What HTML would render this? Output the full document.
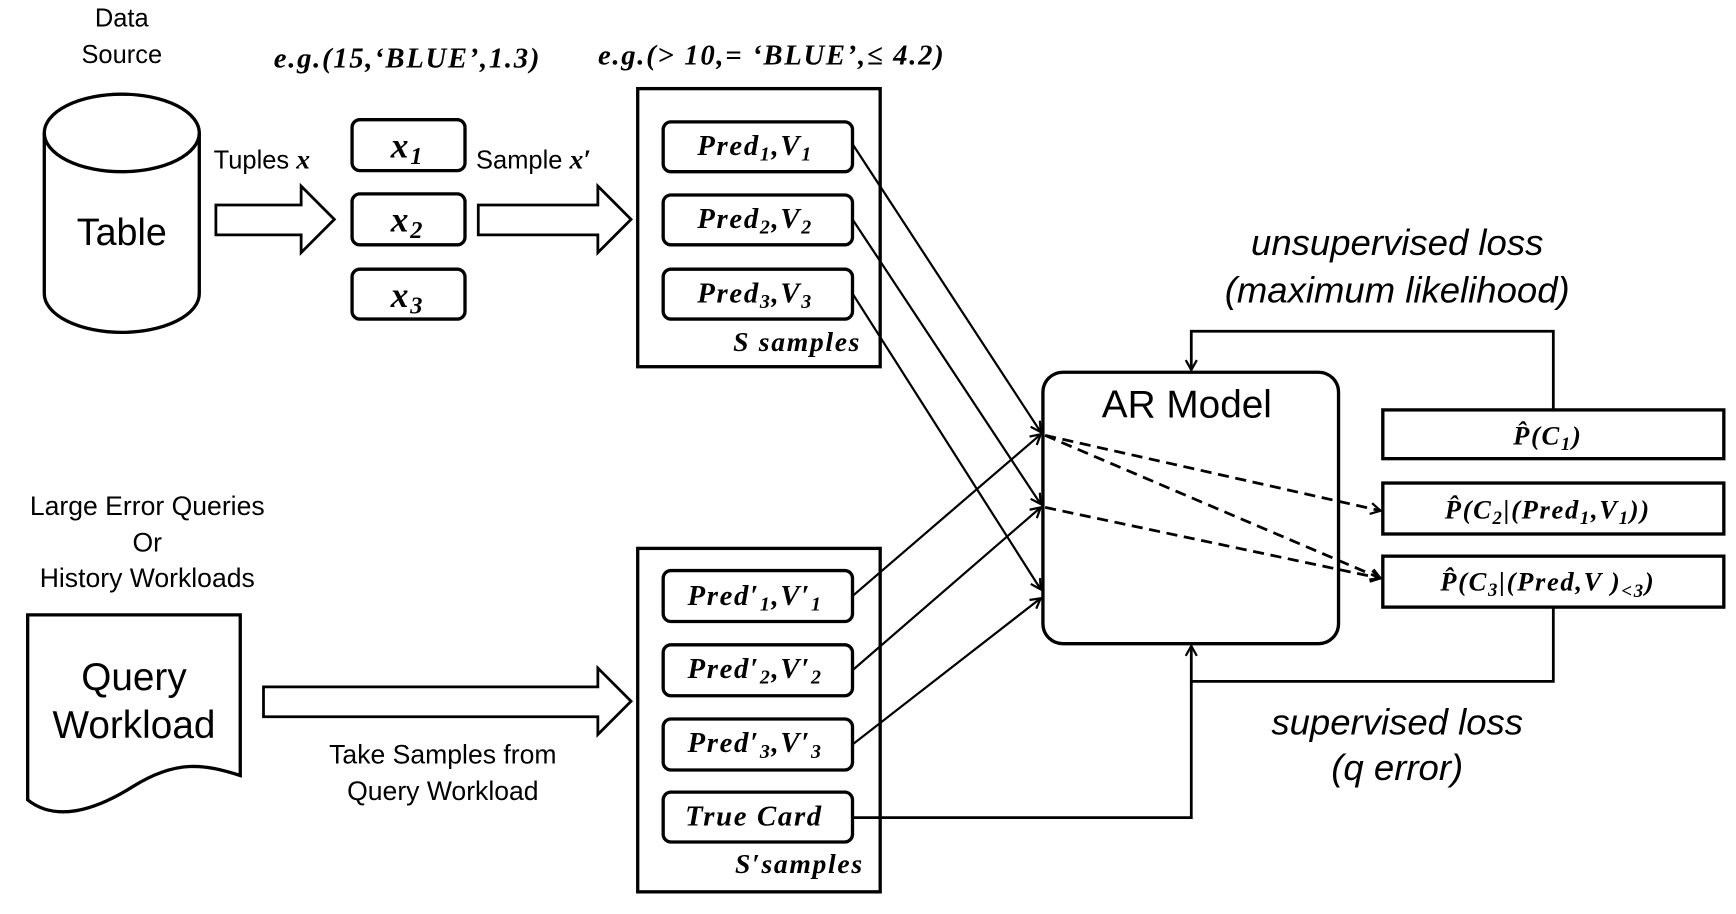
<!DOCTYPE html>
<html><head><meta charset="utf-8"><style>
html,body{margin:0;padding:0;background:#fff;}
svg{display:block}
.s{font-family:"Liberation Sans","DejaVu Sans",sans-serif;}
.m{font-family:"Liberation Serif",serif;font-weight:bold;font-style:italic;}
</style></head><body>
<svg width="1736" height="914" viewBox="0 0 1568 825" preserveAspectRatio="none" xmlns="http://www.w3.org/2000/svg">
<defs>
<marker id="ah" markerWidth="12" markerHeight="12" refX="10" refY="6" orient="auto" markerUnits="userSpaceOnUse">
<path d="M1,1 L10,6 L1,11" fill="none" stroke="#000" stroke-width="2"/></marker>
</defs>
<g fill="none" stroke="#000" stroke-width="3">
<path d="M40,120 L40,265 A70,35 0 0 0 180,265 L180,120"/>
<ellipse cx="110" cy="120" rx="70" ry="35"/>
<path d="M195,185 L272,185 L272,168 L302,198 L272,228 L272,212 L195,212 Z" stroke-width="2.5"/>
<path d="M432,185 L540,185 L540,168 L570,198 L540,228 L540,212 L432,212 Z" stroke-width="2.5"/>
<path d="M238,620 L540,620 L540,603 L570,633 L540,663 L540,647 L238,647 Z" stroke-width="2.5"/>
<rect x="318" y="108" width="102" height="46" rx="7"/>
<rect x="318" y="175" width="102" height="46" rx="7"/>
<rect x="318" y="243" width="102" height="45" rx="7"/>
<rect x="576" y="80" width="219" height="251"/>
<rect x="599" y="110" width="171" height="45" rx="7"/>
<rect x="599" y="176" width="171" height="45" rx="7"/>
<rect x="599" y="243" width="171" height="45" rx="7"/>
<rect x="576" y="495" width="219" height="310"/>
<rect x="599" y="515" width="171" height="46" rx="7"/>
<rect x="599" y="582" width="171" height="46" rx="7"/>
<rect x="599" y="649" width="171" height="46" rx="7"/>
<rect x="599" y="715" width="171" height="45" rx="7"/>
<rect x="942" y="336" width="267" height="245" rx="18"/>
<rect x="1249" y="370" width="308" height="44"/>
<rect x="1249" y="436" width="308" height="46"/>
<rect x="1249" y="502" width="308" height="46"/>
<path d="M25,555 L217,555 L217,700 C185,690 160,685 120,710 C85,732 50,742 25,722 Z"/>
</g>
<g fill="none" stroke="#000" stroke-width="2.5">
<path d="M1403,370 L1403,299 L1076,299 L1076,334" marker-end="url(#ah)"/>
<path d="M1403,548 L1403,615 L1076,615 L1076,583" marker-end="url(#ah)"/>
<path d="M770,738 L1076,738 L1076,615"/>
<g stroke-width="2">
<path d="M770,130 L940,390" marker-end="url(#ah)"/>
<path d="M770,198 L940,455" marker-end="url(#ah)"/>
<path d="M770,265 L940,532" marker-end="url(#ah)"/>
<path d="M770,538 L940,392" marker-end="url(#ah)"/>
<path d="M770,605 L940,458" marker-end="url(#ah)"/>
<path d="M770,672 L940,540" marker-end="url(#ah)"/>
</g>
<g stroke-dasharray="10,6">
<path d="M944,393 L1247,461" marker-end="url(#ah)"/>
<path d="M944,393 L1247,522" marker-end="url(#ah)"/>
<path d="M944,458 L1247,522" marker-end="url(#ah)"/>
</g>
</g>
<g class="s" fill="#000" font-size="23" text-anchor="middle">
<text x="110" y="24">Data</text>
<text x="110" y="57">Source</text>
<text x="110" y="221" font-size="34">Table</text>
<text x="133" y="465" font-size="24">Large Error Queries</text>
<text x="133" y="498" font-size="24">Or</text>
<text x="133" y="530" font-size="24">History Workloads</text>
<text x="121" y="623" font-size="35">Query</text>
<text x="121" y="666" font-size="35">Workload</text>
<text x="400" y="689" font-size="24">Take Samples from</text>
<text x="400" y="722" font-size="24">Query Workload</text>
<text x="1072" y="377" font-size="35">AR Model</text>
<text x="1262" y="230" font-size="33" font-style="italic">unsupervised loss</text>
<text x="1262" y="273" font-size="33" font-style="italic">(maximum likelihood)</text>
<text x="1262" y="663" font-size="33" font-style="italic">supervised loss</text>
<text x="1262" y="704" font-size="33" font-style="italic">(q error)</text>
<text x="193" y="152" text-anchor="start">Tuples <tspan class="m" font-size="25">x</tspan></text>
<text x="430" y="152" text-anchor="start">Sample <tspan class="m" font-size="25">x′</tspan></text>
</g>
<g class="m" fill="#000" font-size="26" text-anchor="middle" letter-spacing="1.5">
<text x="368" y="142" font-size="32">x<tspan font-size="22" dy="6">1</tspan></text>
<text x="368" y="209" font-size="32">x<tspan font-size="22" dy="6">2</tspan></text>
<text x="368" y="277" font-size="32">x<tspan font-size="22" dy="6">3</tspan></text>
<text x="368" y="61" font-size="26">e.g.(15,‘BLUE’,1.3)</text>
<text x="697" y="58" font-size="26">e.g.(&gt; 10,= ‘BLUE’,≤ 4.2)</text>
<text x="682" y="140">Pred<tspan font-size="18" dy="5">1</tspan><tspan dy="-5">,V</tspan><tspan font-size="18" dy="5">1</tspan></text>
<text x="682" y="206">Pred<tspan font-size="18" dy="5">2</tspan><tspan dy="-5">,V</tspan><tspan font-size="18" dy="5">2</tspan></text>
<text x="682" y="273">Pred<tspan font-size="18" dy="5">3</tspan><tspan dy="-5">,V</tspan><tspan font-size="18" dy="5">3</tspan></text>
<text x="720" y="317" font-size="25">S samples</text>
<text x="682" y="546">Pred′<tspan font-size="18" dy="5">1</tspan><tspan dy="-5">,V′</tspan><tspan font-size="18" dy="5">1</tspan></text>
<text x="682" y="612">Pred′<tspan font-size="18" dy="5">2</tspan><tspan dy="-5">,V′</tspan><tspan font-size="18" dy="5">2</tspan></text>
<text x="682" y="679">Pred′<tspan font-size="18" dy="5">3</tspan><tspan dy="-5">,V′</tspan><tspan font-size="18" dy="5">3</tspan></text>
<text x="681" y="745">True Card</text>
<text x="722" y="788" font-size="25">S′samples</text>
<text x="1398" y="401" font-size="24">P̂(C<tspan font-size="17" dy="5">1</tspan><tspan dy="-5">)</tspan></text>
<text x="1398" y="468" font-size="24">P̂(C<tspan font-size="17" dy="5">2</tspan><tspan dy="-5">|(Pred</tspan><tspan font-size="17" dy="5">1</tspan><tspan dy="-5">,V</tspan><tspan font-size="17" dy="5">1</tspan><tspan dy="-5">))</tspan></text>
<text x="1398" y="533" font-size="24">P̂(C<tspan font-size="17" dy="5">3</tspan><tspan dy="-5">|(Pred,V )</tspan><tspan font-size="17" dy="6">&lt;3</tspan><tspan dy="-6">)</tspan></text>
</g>
</svg>
</body></html>
